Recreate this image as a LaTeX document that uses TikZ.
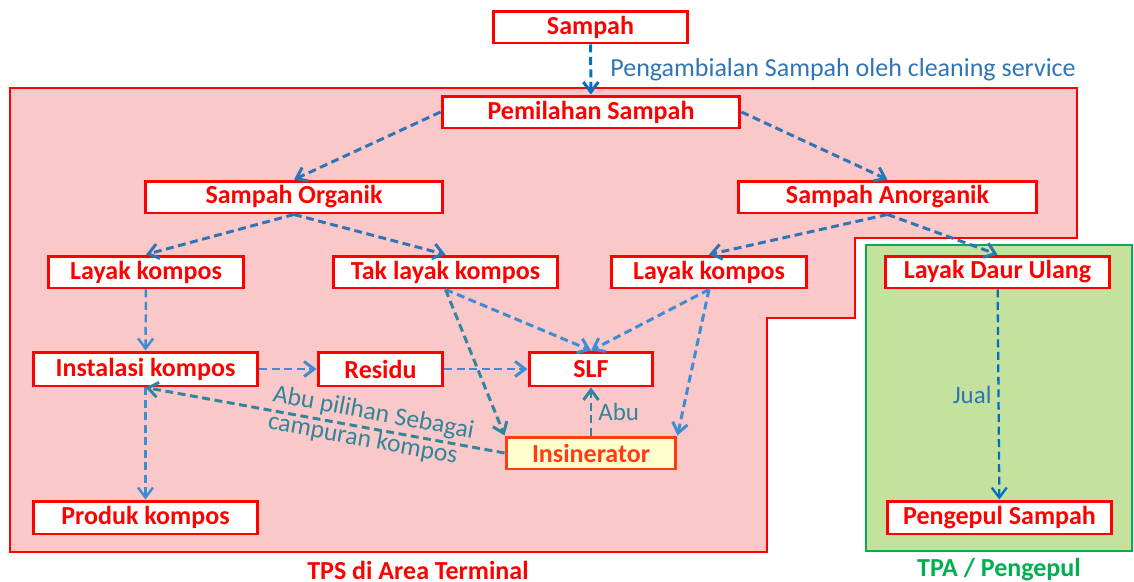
\documentclass[tikz,border=0pt]{standalone}
\usepackage{fontspec}
\setmainfont{Carlito}
\usetikzlibrary{arrows.meta,calc}
\definecolor{boxred}{RGB}{255,0,0}
\definecolor{insred}{RGB}{255,60,20}
\definecolor{insfill}{RGB}{255,255,205}
\definecolor{tpsfill}{RGB}{250,200,200}
\definecolor{tpafill}{RGB}{196,226,158}
\definecolor{tpagreen}{RGB}{0,176,80}
\definecolor{flowblue}{RGB}{46,117,182}
\definecolor{lightblue}{RGB}{62,140,212}
\definecolor{darkblue}{RGB}{0,112,192}
\definecolor{flowteal}{RGB}{49,133,156}
\tikzset{
        block/.style={draw=boxred, fill=white, line width=1.7pt, text=boxred, font=\fontsize{14.8}{16}\selectfont\bfseries, minimum height=0.64cm, inner sep=0pt},
        line/.style={line width=1.7pt, dash pattern=on 4.5pt off 2.6pt, flowblue, -{Straight Barb[length=2mm,width=3mm]}},
        lbl/.style={font=\fontsize{14.2}{16}\selectfont}
    }
\begin{document}
\begin{tikzpicture}[x=0.02cm, y=-0.02cm]
    \useasboundingbox (0,0) rectangle (1134,582);

    % area TPS and TPA
    \draw[boxred, fill=tpsfill, line width=1.4pt] (10,88) -- (1077,88) -- (1077,238) -- (855,238) -- (855,318) -- (767,318) -- (767,552) -- (10,552) -- cycle;
    \draw[tpagreen, fill=tpafill, line width=1.7pt] (866,245) rectangle (1132,551);
    \node[font=\fontsize{14.8}{16}\selectfont\bfseries, text=boxred] (tps) at (418,570) {TPS di Area Terminal};
    \node[font=\fontsize{14.8}{16}\selectfont\bfseries, text=tpagreen] (tpa) at (999,570) {TPA / Pengepul};

    % sorting
    \node[block, minimum width=3.9cm] (sampah) at (590.5,27) {Sampah};
    \node[block, minimum width=5.96cm] (pemilahan) at (591,112) {Pemilahan Sampah};
    \node[block, minimum width=5.96cm] (organik) at (294,197) {Sampah Organik};
    \node[block, minimum width=5.96cm] (anorganik) at (887.5,197) {Sampah Anorganik};

    \node[block, minimum width=3.92cm] (layakL) at (146,272) {Layak kompos};
    \node[block, minimum width=4.5cm] (taklayak) at (445.5,272) {Tak layak kompos};
    \node[block, minimum width=3.92cm] (layakR) at (709,272) {Layak kompos};
    \node[block, minimum width=4.5cm] (daur) at (997.5,272) {Layak Daur Ulang};

    % processing
    \node[block, minimum width=4.5cm, minimum height=0.68cm] (instalasi) at (145.5,369) {Instalasi kompos};
    \node[block, minimum width=2.5cm, minimum height=0.68cm] (residu) at (380.5,369) {Residu};
    \node[block, minimum width=2.48cm, minimum height=0.68cm] (slf) at (591,369) {SLF};
    \node[block, minimum width=3.4cm, draw=insred, fill=insfill, text=insred] (insinerator) at (591,453) {Insinerator};
    \node[block, minimum width=4.5cm, minimum height=0.66cm] (produk) at (145.5,517.5) {Produk kompos};
    \node[block, minimum width=4.5cm, minimum height=0.66cm] (pengepul) at (999.5,517.5) {Pengepul Sampah};

    % connections
    \draw[line, darkblue] (sampah) -- node[right, lbl, font=\fontsize{14.8}{16}\selectfont, text=flowblue, xshift=7pt] (ambil) {Pengambialan Sampah oleh cleaning service} (pemilahan);
    \draw[line] (pemilahan.west) -- (organik.north);
    \draw[line] (pemilahan.east) -- (anorganik.north);
    \draw[line] (organik.south) -- (layakL.north);
    \draw[line] (organik.south) -- (taklayak.north);
    \draw[line] (anorganik.south) -- (layakR.north);
    \draw[line] (anorganik.south) -- (daur.north);

    \draw[line, lightblue, line width=1.4pt] (layakL) -- (instalasi);
    \draw[line, lightblue, line width=1.4pt] (instalasi) -- (produk);
    \draw[line, lightblue] (instalasi) -- (residu);
    \draw[line, lightblue] (residu) -- (slf);
    \draw[line, lightblue] (taklayak.south) -- (slf.north);
    \draw[line, lightblue] (layakR.south) -- (slf.north);
    \draw[line, lightblue] (layakR.south) -- (insinerator.north east);

    \draw[line, flowteal] (taklayak.south) -- (insinerator.north west);
    \draw[line, flowteal] (insinerator.west) -- (instalasi.south);
    \draw[line, flowteal] (insinerator) -- node[right, lbl, text=flowteal] (abu) {Abu} (slf);
    \node[lbl, font=\fontsize{14.6}{15.8}\selectfont, text=flowteal, rotate=-10.5, align=left] (pilihan) at (371,427) {Abu pilihan Sebagai\\campuran kompos};

    \draw[line, darkblue, line width=1.3pt] (daur) -- node[left, lbl, text=flowblue] (jual) {Jual} (pengepul);

\end{tikzpicture}
\end{document}
